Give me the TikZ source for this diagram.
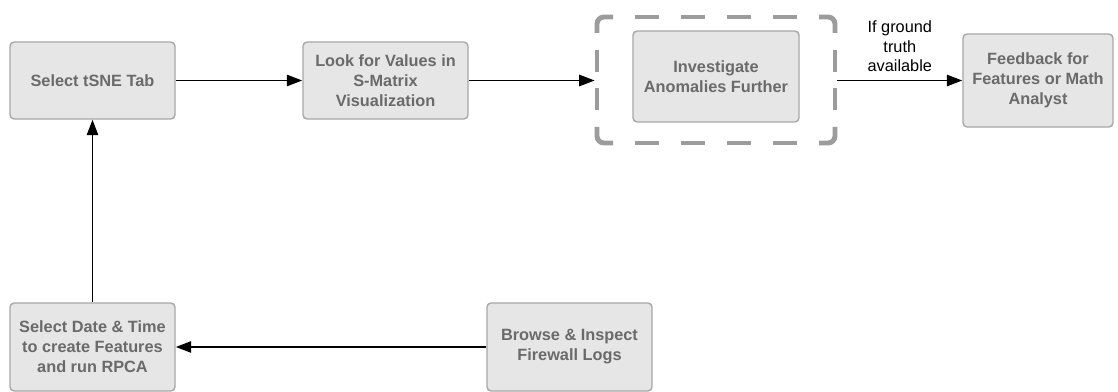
\documentclass[tikz,border=0pt]{standalone}
\usepackage{fontspec}
\setmainfont{Liberation Sans}
\usepackage{tikz}
\usetikzlibrary{shapes,arrows.meta,positioning}
\usepackage{xcolor}
\definecolor{boxfill}{HTML}{E6E6E6}
\definecolor{boxline}{HTML}{A8A8A8}
\definecolor{boxtext}{HTML}{6A6A6A}
\definecolor{frameline}{HTML}{9C9C9C}

\begin{document}
\begin{tikzpicture}[x=0.025cm, y=-0.025cm,
        box/.style={draw=boxline, fill=boxfill, line width=1pt, rounded corners=3pt,
            text=boxtext, font=\fontsize{11.6}{14.2}\selectfont\bfseries, align=center, inner sep=0pt},
        flow/.style={line width=1.4pt, -{Triangle[length=11pt,width=8pt]}},
        framedash/.style={draw=frameline, line width=3.5pt, dash pattern=on 17.1pt off 15.6pt, dash phase=17.1pt}]
        \useasboundingbox (0,0) rectangle (1118,392);
        \clip (0,0) rectangle (1118,392);

        % top row
        \node[box, minimum width=4.125cm, minimum height=1.925cm] (tsne) at (92.5, 80.5) {Select tSNE Tab};
        \node[box, minimum width=4.125cm, minimum height=1.925cm] (smat) at (385.5, 80.5) {Look for Values in\\S-Matrix\\Visualization};
        \node[box, minimum width=4.15cm, minimum height=2.275cm] (anom) at (716, 76.5) {Investigate\\Anomalies Further};
        \node[box, minimum width=3.75cm, minimum height=2.325cm] (feed) at (1038, 80.5) {Feedback for\\Features or Math\\Analyst};

        % dashed frame round the investigation step
        \node[minimum width=6.05cm, minimum height=3.25cm, inner sep=0pt] (frame) at (716, 80) {};
        \draw[frameline, line width=3.5pt, rounded corners=5pt] (597,33) -- (597,17) -- (613,17);
        \draw[frameline, line width=3.5pt, rounded corners=5pt] (819,17) -- (835,17) -- (835,33);
        \draw[frameline, line width=3.5pt, rounded corners=5pt] (835,127) -- (835,143) -- (819,143);
        \draw[frameline, line width=3.5pt, rounded corners=5pt] (613,143) -- (597,143) -- (597,127);
        \draw[framedash] (613,17) -- (819,17);
        \draw[framedash] (613,143) -- (819,143);
        \draw[framedash, dash pattern=on 15.6pt off 11.8pt, dash phase=15.6pt] (597,33) -- (597,127);
        \draw[framedash, dash pattern=on 15.6pt off 11.8pt, dash phase=15.6pt] (835,33) -- (835,127);

        % bottom row
        \node[box, minimum width=4.125cm, minimum height=2.2cm] (rpca) at (92.5, 347) {Select Date \& Time\\to create Features\\and run RPCA};
        \node[box, minimum width=4.125cm, minimum height=2.2cm] (logs) at (569.5, 347) {Browse \& Inspect\\Firewall Logs};

        \draw[flow] (tsne) -- (smat);
        \draw[flow] (smat.east) -- (smat.east -| frame.west);
        \draw[flow] (frame.east |- feed.west) -- node[above=2pt, align=center, font=\fontsize{11.6}{14}\selectfont] (cond) {If ground\\truth\\available} (feed.west);
        \draw[flow] (logs.west |- rpca.east) -- (rpca.east);
        \draw[flow] (rpca) -- (tsne);
    \end{tikzpicture}
\end{document}
